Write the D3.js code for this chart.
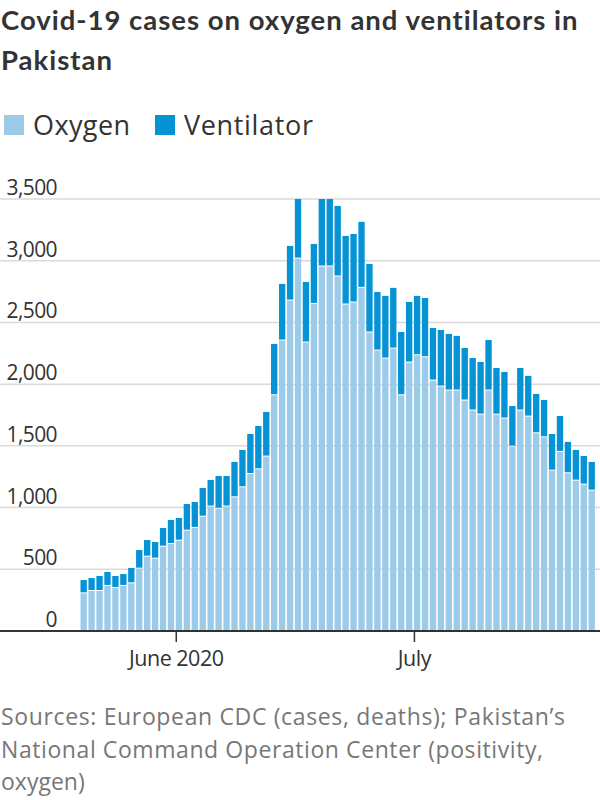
<!DOCTYPE html>
<html>
<head>
<meta charset="utf-8">
<script src="https://cdn.jsdelivr.net/npm/d3@7"></script>
<style>
  html, body { margin: 0; padding: 0; background: #fff; }
  svg { display: block; }
</style>
</head>
<body>
<svg id="chart" width="600" height="800"></svg>
<script>
// ---- data ----
const dates = [
  "2020-05-20","2020-05-21","2020-05-22","2020-05-23","2020-05-24","2020-05-25","2020-05-26","2020-05-27","2020-05-28","2020-05-29","2020-05-30","2020-05-31",
  "2020-06-01","2020-06-02","2020-06-03","2020-06-04","2020-06-05","2020-06-06","2020-06-07","2020-06-08","2020-06-09","2020-06-10",
  "2020-06-11","2020-06-12","2020-06-13","2020-06-14","2020-06-15","2020-06-16","2020-06-17","2020-06-18","2020-06-19","2020-06-20",
  "2020-06-21","2020-06-22","2020-06-23","2020-06-24","2020-06-25","2020-06-26","2020-06-27","2020-06-28","2020-06-29","2020-06-30",
  "2020-07-01","2020-07-02","2020-07-03","2020-07-04","2020-07-05","2020-07-06","2020-07-07","2020-07-08","2020-07-09","2020-07-10",
  "2020-07-11","2020-07-12","2020-07-13","2020-07-14","2020-07-15","2020-07-16","2020-07-17","2020-07-18","2020-07-19","2020-07-20",
  "2020-07-21","2020-07-22","2020-07-23"
];
const oxygen = [305,324,324,365,348,365,386,505,602,586,683,705,732,813,835,926,1008,991,1008,1083,
  1164,1272,1310,1413,1910,2353,2677,3017,2337,2650,2953,2953,2872,2645,2661,2780,2418,2272,2207,2288,
  1910,2175,2234,2218,2029,1980,1948,1948,1867,1786,1753,1948,1753,1721,1494,1786,1737,1602,1569,1299,
  1451,1278,1218,1186,1137];
const ventilator = [108,105,122,113,98,97,125,151,135,135,152,195,184,216,210,233,216,265,248,287,
  303,324,351,362,416,459,443,483,491,486,547,547,572,556,556,535,556,475,508,492,
  513,491,481,480,426,459,459,443,426,426,427,410,378,378,329,345,330,319,303,297,
  291,254,249,232,233];
const yTicks = [0,500,1000,1500,2000,2500,3000,3500];
const xTickDates = ["2020-06-01","2020-07-01"];
const xTickLabels = ["June 2020","July"];
const seriesNames = ["Oxygen","Ventilator"];
const colors = ["#9ccbea","#0693d6"];
const titleLines = ["Covid-19 cases on oxygen and ventilators in","Pakistan"];
const sourceLines = ["Sources: European CDC (cases, deaths); Pakistan\u2019s",
  "National Command Operation Center (positivity,","oxygen)"];

// ---- build ----
const parse = d3.timeParse("%Y-%m-%d");
const rows = dates.map((d,i) => ({date: parse(d), Oxygen: oxygen[i], Ventilator: ventilator[i]}));
const stack = d3.stack().keys(seriesNames)(rows);

const svg = d3.select("#chart");
const titleFont = "Lato, 'Open Sans', sans-serif";
const font = "'Open Sans', 'Noto Sans', sans-serif";

// spread letters so a text spans a given width
function fitWidth(node, target) {
  const n = node.textContent.length;
  const w = node.getComputedTextLength();
  if (n > 1) d3.select(node).attr("letter-spacing", ((target - w) / (n - 1)).toFixed(3));
  return (target - w) / (n - 1);
}

const plotTop = 199, plotBottom = 631;
const x = d3.scaleTime()
  .domain([parse("2020-05-20"), parse("2020-07-24")])
  .range([80.5, 596.5]);
const y = d3.scaleLinear().domain([0,3500]).range([plotBottom, plotTop]);

// title
const tt = svg.append("g").selectAll("text").data(titleLines).join("text")
  .attr("x", 1).attr("y", (d,i) => 30 + i*40)
  .attr("font-family", titleFont).attr("font-weight", 700).attr("font-size", 27.5)
  .attr("fill", "#333").text(d => d);
const ls = fitWidth(tt.nodes()[0], 577);
tt.filter((d,i) => i > 0).attr("letter-spacing", ls.toFixed(3));

// legend
const leg = svg.append("g").attr("transform","translate(4,115)");
const legX = [0, 151];
const legW = [97, 129];
seriesNames.forEach((s,i) => {
  leg.append("rect").attr("x", legX[i]).attr("y", 0).attr("width", 20).attr("height", 20).attr("fill", colors[i]);
  const t = leg.append("text").attr("x", legX[i]+29).attr("y", 19.5)
    .attr("font-family", font).attr("font-size", 27).attr("fill", "#333").text(s);
  fitWidth(t.node(), legW[i]);
});

// gridlines + y labels
const gy = svg.append("g");
gy.selectAll("line").data(yTicks.filter(d => d>0)).join("line")
  .attr("x1", 0).attr("x2", 600)
  .attr("y1", d => y(d)).attr("y2", d => y(d))
  .attr("stroke", "#dadada").attr("stroke-width", 1.5);
gy.selectAll("text").data(yTicks).join("text")
  .attr("x", 57).attr("y", d => y(d) - 4)
  .attr("text-anchor", "end")
  .attr("font-family", font).attr("font-size", 21).attr("fill", "#333")
  .attr("letter-spacing", -0.6)
  .text(d => d3.format(",")(d));

// bars
const barW = d => x(d3.timeDay.offset(d,1)) - x(d) - 1.6;
const layers = svg.append("g").selectAll("g").data(stack).join("g")
  .attr("fill", (d,i) => colors[i]);
layers.selectAll("rect").data((d,li) => d.map(p => ({p, li}))).join("rect")
  .attr("x", d => x(d.p.data.date))
  .attr("width", d => barW(d.p.data.date))
  .attr("y", d => y(d.p[1]))
  .attr("height", d => Math.max(0, y(d.p[0]) - y(d.p[1]) - (d.li === 1 ? 1 : 0)));

// x axis
const xAxis = d3.axisBottom(x)
  .tickValues(xTickDates.map(parse))
  .tickFormat((d,i) => xTickLabels[i])
  .tickSize(11).tickPadding(9);
const ax = svg.append("g").attr("transform", `translate(0,${plotBottom})`).call(xAxis);
ax.select(".domain").remove();
ax.selectAll(".tick line").attr("stroke", "#333").attr("stroke-width", 1.5);
ax.selectAll(".tick text").attr("font-family", font).attr("font-size", 21.5).attr("fill", "#333")
  .attr("letter-spacing", -0.5);
svg.append("line").attr("x1", 0).attr("x2", 600).attr("y1", plotBottom).attr("y2", plotBottom)
  .attr("stroke", "#333").attr("stroke-width", 2);

// source
const srcW = [564, 542, null];
svg.append("g").selectAll("text").data(sourceLines).join("text")
  .attr("x", 1).attr("y", (d,i) => 725 + i*32.5)
  .attr("font-family", font).attr("font-weight", 400).attr("font-size", 23).attr("fill", "#777")
  .text(d => d)
  .each(function(d,i){ if (srcW[i]) fitWidth(this, srcW[i]); });
</script>
</body>
</html>
